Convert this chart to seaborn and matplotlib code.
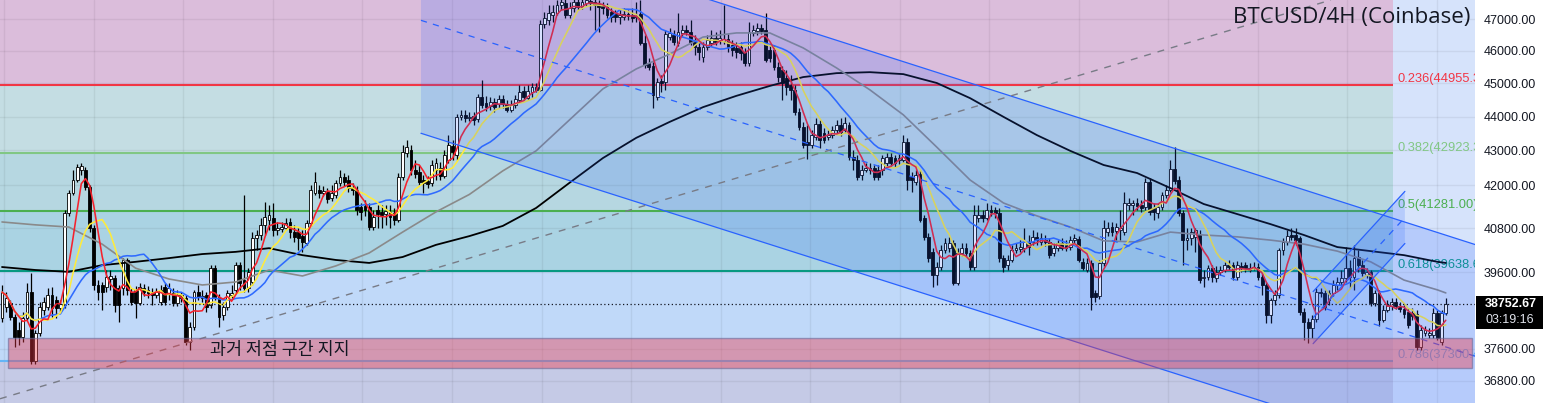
import numpy as np
import pandas as pd
import matplotlib
matplotlib.use("Agg")
import matplotlib.pyplot as plt
import seaborn as sns
from matplotlib.patches import Polygon, Rectangle
from matplotlib.ticker import NullLocator, NullFormatter

# ------------------------------------------------------------------ data
title = "BTCUSD/4H (Coinbase)"
last_price = 38752.67
countdown = "03:19:16"

opens = [
    38390, 38680, 38780, 38420, 38080, 37900, 38390, 39070, 37290, 38000,
    38600, 38680, 38990, 38860, 38650, 38730, 41220, 41780, 42150, 42440,
    42440, 41950, 40800, 39260, 39260, 39210, 39420, 39450, 39180, 39180,
    39930, 39070, 39130, 38780, 39180, 39130, 39070, 38990, 38810, 39210,
    39050, 39050, 38780, 38990, 38910, 37770, 38160, 39070, 38910, 38990,
    38730, 39710, 38940, 38470, 38680, 38990, 39130, 39790, 39390, 39180,
    39340, 40530, 40610, 40890, 41030, 41080, 40750, 40780, 40800, 40970,
    40690, 40690, 40580, 40390, 40940, 41780, 41870, 41780, 41810, 41640,
    41730, 42070, 42240, 42150, 41920, 41870, 41390, 41420, 41390, 40830,
    41300, 41250, 41190, 41250, 41220, 41030, 42240, 42930, 43010, 42440,
    42380, 42150, 42120, 42070, 42440, 42490, 42260, 42720, 43130, 42870,
    43990, 44050, 43960, 44020, 43930, 44580, 44400, 44310, 44430, 44370,
    44520, 44370, 44190, 44340, 44490, 44770, 44550, 44740, 44890, 44800,
    46840, 46970, 47130, 47190, 47450, 47510, 47130, 47350, 47540, 47380,
    47510, 47580, 47540, 47480, 47420, 47380, 47220, 47160, 47060, 47060,
    47160, 47130, 47100, 47160, 46240, 45620, 45530, 44580, 45070, 45040,
    46430, 46490, 46240, 46560, 46650, 46590, 46340, 46120, 45810, 46120,
    46240, 46400, 46340, 46310, 46370, 46180, 46090, 46120, 45960, 45620,
    46560, 46620, 46720, 46650, 46020, 46020, 45500, 45410, 45160, 44950,
    44800, 44130, 43690, 43250, 43160, 43390, 43780, 43510, 43390, 43450,
    43600, 43750, 43600, 43750, 42810, 42720, 42290, 42440, 42490, 42490,
    42440, 42440, 42640, 42810, 42780, 42720, 42720, 43250, 42240, 42090,
    42320, 41080, 40560, 40150, 39530, 39740, 40200, 40250, 40390, 39310,
    40120, 40250, 40120, 39740, 41080, 41160, 41080, 41300, 41300, 41220,
    39980, 39790, 39930, 40200, 40230, 40250, 40420, 40420, 40560, 40420,
    40470, 40420, 40120, 40250, 40390, 40340, 40280, 40470, 40500, 39880,
    39660, 39850, 39050, 38970, 39850, 40690, 40830, 40720, 40750, 40690,
    41440, 41440, 41500, 41440, 41390, 42090, 41360, 41220, 41390, 41730,
    41870, 42470, 42150, 41220, 40470, 40530, 40560, 40610, 39450, 39470,
    39710, 39450, 39610, 39660, 39790, 39790, 39470, 39770, 39790, 39660,
    39710, 39740, 39470, 39260, 38470, 38860, 38990, 40200, 40420, 40610,
    40610, 40530, 38550, 38290, 38130, 38370, 39070, 39050, 38860, 39050,
    39260, 39340, 39450, 39710, 39470, 40010, 39790, 39530, 39610, 38780,
    39050, 38340, 38600, 38710, 38810, 38710, 38630, 38550, 38520, 38500,
    37650, 38000, 37950, 37950, 38520, 37770, 38520,
]

closes = [
    39070, 38910, 38420, 37900, 37900, 38390, 39070, 37290, 38000, 38680,
    38810, 38990, 38650, 38650, 38760, 41220, 41780, 42150, 42520, 42550,
    41950, 40800, 39260, 39070, 39070, 39470, 39500, 38730, 38730, 39930,
    39130, 38810, 38780, 39210, 39070, 39050, 38990, 39070, 39130, 38810,
    39180, 38780, 38990, 38910, 37770, 38160, 39070, 38940, 38970, 38680,
    39710, 38940, 38420, 38680, 39050, 39050, 39790, 39310, 39180, 39610,
    40530, 40610, 40890, 41110, 41160, 40750, 40800, 40830, 40940, 40690,
    40560, 40530, 40420, 40940, 41870, 42090, 41780, 41840, 41610, 41780,
    42070, 42240, 42090, 41920, 41870, 41300, 41250, 41300, 40830, 41110,
    41190, 41160, 41280, 41110, 41030, 42240, 42960, 43100, 42440, 42320,
    42090, 42070, 42040, 42580, 42640, 42260, 42870, 43160, 42960, 43990,
    44050, 43960, 43990, 43900, 44580, 44340, 44280, 44430, 44280, 44520,
    44370, 44190, 44340, 44520, 44740, 44580, 44770, 44890, 44800, 46840,
    47030, 47190, 47220, 47450, 47540, 47130, 47350, 47540, 47380, 47540,
    47610, 47510, 47450, 47380, 47350, 47130, 47060, 47060, 47130, 47160,
    47100, 47030, 47060, 46240, 45560, 45500, 44650, 45040, 45010, 46530,
    46560, 46270, 46590, 46650, 46590, 46270, 46120, 45960, 46120, 46340,
    46400, 46270, 46400, 46370, 46120, 46020, 45960, 45930, 45620, 46590,
    46650, 46720, 46620, 45710, 45780, 45500, 45190, 45010, 44890, 44800,
    44130, 43690, 43160, 43160, 43450, 43780, 43310, 43310, 43450, 43600,
    43750, 43540, 43810, 42810, 42720, 42240, 42440, 42490, 42440, 42240,
    42240, 42780, 42810, 42640, 42640, 42780, 43250, 42150, 42150, 42290,
    41030, 40560, 39980, 39530, 39740, 40200, 40390, 40390, 39310, 40120,
    40250, 40120, 39740, 41160, 41160, 41080, 41300, 41250, 41220, 39980,
    39740, 39930, 40200, 40250, 40280, 40420, 40280, 40560, 40470, 40530,
    40420, 40060, 40250, 40390, 40250, 40250, 40470, 40530, 39930, 39710,
    39850, 38940, 38940, 39850, 40800, 40800, 40690, 40830, 40800, 41500,
    41500, 41500, 41420, 41360, 42090, 41250, 41250, 41390, 41730, 41870,
    42470, 42120, 41220, 40470, 40530, 40690, 40750, 39390, 39470, 39710,
    39470, 39610, 39660, 39790, 39740, 39470, 39790, 39710, 39710, 39710,
    39740, 39470, 39260, 38470, 38860, 38990, 40200, 40420, 40580, 40560,
    40470, 38550, 38290, 38130, 38370, 39070, 39050, 38680, 39050, 39260,
    39340, 39450, 39710, 39470, 39980, 39790, 39580, 39610, 38780, 39050,
    38340, 38600, 38730, 38810, 38710, 38630, 38500, 38210, 38440, 37650,
    38080, 38080, 38000, 38520, 37880, 38520, 38752.67,
]

highs = [
    39260, 39070, 38860, 38500, 38290, 38550, 39310, 39580, 38080, 38810,
    38940, 39180, 39210, 38970, 38860, 41300, 41870, 42440, 42610, 42640,
    42520, 42010, 40890, 39390, 39340, 39660, 39660, 39530, 39260, 39980,
    39980, 39180, 39230, 39310, 39290, 39230, 39180, 39180, 39260, 39310,
    39310, 39180, 39130, 39070, 38990, 38290, 39130, 39260, 39130, 39070,
    39790, 39790, 39020, 38810, 39130, 39260, 39880, 39880, 41730, 39710,
    40690, 40750, 41080, 41530, 41440, 41500, 40970, 40970, 41080, 41080,
    40890, 40800, 40750, 41030, 42010, 42380, 42010, 41980, 41920, 42010,
    42150, 42440, 42350, 42290, 42070, 41980, 41500, 41580, 41500, 41300,
    41440, 41440, 41440, 41440, 41360, 42350, 43160, 43310, 43160, 42720,
    42580, 42290, 42260, 42720, 42780, 42670, 43010, 43450, 43310, 44080,
    44190, 44190, 44130, 44130, 44680, 45100, 44610, 44580, 44550, 44650,
    44650, 44490, 44490, 44650, 44950, 44920, 44950, 45010, 45010, 46970,
    47220, 47450, 47450, 47610, 47770, 47710, 47540, 47710, 47710, 47710,
    47710, 47710, 47670, 47610, 47540, 47510, 47350, 47290, 47290, 47350,
    47290, 47350, 47540, 47610, 46490, 45780, 45650, 45160, 45250, 46650,
    46720, 46650, 47190, 46810, 46810, 46970, 46490, 46270, 46270, 46490,
    46650, 46590, 46650, 47450, 46530, 46340, 46270, 46270, 46090, 46900,
    46810, 46870, 46840, 47190, 46180, 46180, 45650, 45530, 45410, 45250,
    44950, 44250, 43840, 43750, 43600, 43960, 43900, 43660, 43600, 43720,
    43900, 43960, 43990, 43840, 43010, 42870, 42580, 42640, 42640, 42580,
    42580, 42870, 42930, 42930, 42870, 42900, 43450, 43370, 42380, 42440,
    42440, 41160, 40670, 40250, 39880, 40340, 40530, 40560, 40470, 40250,
    40390, 40390, 40200, 41440, 41440, 41300, 41500, 41440, 41390, 41360,
    40060, 40060, 40340, 40390, 40470, 40800, 40610, 40750, 40690, 40670,
    40610, 40530, 40390, 40470, 40530, 40470, 40580, 40640, 40580, 39980,
    39980, 39930, 39130, 39930, 41030, 40970, 40970, 40940, 41300, 41810,
    41640, 41580, 41640, 41580, 42210, 42210, 41500, 41500, 41810, 42010,
    42720, 43100, 42260, 41300, 40800, 40800, 40800, 40750, 39660, 39790,
    39790, 39770, 39770, 39880, 39930, 39880, 39900, 39880, 39880, 39850,
    39880, 39850, 39580, 39340, 38910, 39130, 40250, 40530, 40750, 40800,
    40800, 40580, 38650, 38390, 38470, 39180, 39180, 39130, 39130, 39390,
    39470, 39660, 40280, 39930, 40340, 40200, 39930, 39710, 39660, 39130,
    39130, 38730, 38860, 38910, 38910, 38810, 38730, 38650, 38650, 38600,
    38210, 38180, 38130, 38650, 38600, 38600, 38910,
]

lows = [
    38290, 38550, 38340, 37650, 37700, 37770, 38340, 37220, 37220, 37930,
    38470, 38600, 38420, 38390, 38550, 38650, 41140, 41730, 42090, 42290,
    41870, 40690, 39130, 38860, 38600, 39070, 39130, 38550, 38290, 38990,
    38990, 38730, 38390, 38730, 38970, 38910, 38730, 38910, 38730, 38730,
    38860, 38710, 38710, 38810, 37700, 37570, 38080, 38860, 38810, 38550,
    38650, 38860, 38160, 38340, 38600, 38910, 39050, 39130, 39070, 39070,
    39260, 40200, 40470, 40610, 40750, 40580, 40610, 40690, 40750, 40530,
    40420, 40200, 40150, 40340, 40860, 41730, 41640, 41700, 41500, 41560,
    41640, 41980, 41980, 41810, 41730, 41160, 41030, 41140, 40750, 40750,
    40800, 40800, 40890, 40800, 40890, 40970, 42150, 42810, 42290, 42210,
    42010, 41780, 41920, 41980, 42150, 42150, 42210, 42640, 42720, 42720,
    43900, 43840, 43870, 43750, 43840, 44250, 44160, 44190, 44130, 44250,
    44250, 44130, 44130, 44250, 44430, 44490, 44490, 44580, 44740, 44770,
    46720, 46810, 46900, 47130, 47290, 47030, 47030, 47220, 47290, 47320,
    47420, 47290, 46650, 46590, 47160, 47030, 46900, 46900, 46840, 46970,
    46970, 46900, 46900, 46180, 45470, 45410, 44250, 44490, 44740, 44800,
    46340, 46180, 46150, 46460, 46490, 46180, 45870, 45710, 45650, 46020,
    46150, 46180, 46210, 46210, 45960, 45840, 45780, 45710, 45530, 45530,
    46460, 46490, 46530, 45650, 45650, 45410, 45040, 44490, 44650, 44490,
    44050, 43600, 43070, 42750, 43070, 43310, 43070, 43220, 43310, 43370,
    43510, 43420, 43510, 42720, 42440, 42150, 42150, 42380, 42320, 42150,
    42150, 42290, 42550, 42550, 42520, 42610, 42670, 41870, 41810, 42010,
    40970, 40470, 39880, 39210, 39260, 39660, 40120, 40150, 39260, 39260,
    40040, 40010, 39660, 39660, 40970, 40970, 41030, 41140, 41080, 39880,
    39610, 39660, 39880, 40120, 40150, 40150, 40060, 40340, 40340, 40340,
    40310, 39980, 40040, 40170, 40200, 40170, 40200, 40390, 39880, 39660,
    39610, 38600, 38810, 38890, 39770, 40580, 40580, 40470, 40470, 40610,
    41300, 41160, 41300, 41250, 41300, 41160, 41030, 41080, 41300, 41640,
    41810, 42040, 41140, 39790, 40200, 40340, 40150, 39310, 39210, 39390,
    39340, 39340, 39530, 39610, 39660, 39390, 39390, 39610, 39610, 39610,
    39660, 39390, 38990, 38260, 38260, 38730, 38910, 40060, 40340, 40470,
    40340, 38470, 37820, 37750, 37880, 38290, 38940, 38600, 38730, 38970,
    39130, 39260, 39340, 39180, 39130, 39610, 39500, 39450, 38710, 38710,
    38180, 38290, 38550, 38600, 38630, 38550, 38390, 38130, 38340, 37570,
    37570, 37930, 37880, 37880, 37820, 37700, 38470,
]

# slow moving averages every 8 candles
slow_idx = list(range(0, 345, 8)) + [346]
ma60 = [
    40970, 40890, 40830, 40360, 39710, 39420, 39260, 39340, 39660, 39500,
    39770, 40120, 40690, 41250, 41740, 42410, 42990, 43900, 44830, 45440,
    45900, 46430, 46560, 46560, 46090, 45470, 44800, 44050, 43100, 42150,
    41500, 41140, 40830, 40450, 40420, 40690, 40610, 40560, 40470, 40360,
    40170, 39880, 39390, 39130, 39050,
]
ma120 = [
    39740, 39660, 39610, 39790, 39880, 39980, 40090, 40150, 40250, 40060,
    39930, 39850, 40010, 40340, 40580, 40860, 41360, 42070, 42780, 43370,
    43840, 44280, 44620, 44920, 45190, 45310, 45340, 45280, 45010, 44550,
    43990, 43450, 42990, 42580, 42350, 41920, 41470, 41190, 40910, 40610,
    40280, 40170, 40060, 39880, 39850,
]

fib_ratios = ["0.236", "0.382", "0.5", "0.618", "0.786"]
fib_prices = [44955.30, 42923.30, 41281.00, 39638.60, 37300.40]
y_ticks = [36800, 37600, 39600, 40800, 42000, 43000, 44000, 45000, 46000, 47000]

support_label = "과거 저점 구간 지지"
support_low, support_high = 37123, 37886

# drawing anchors (candle index, price)
big_x = [100.4, 353.0]
big_top = [50690, 40350]
big_mid = [46959, 37412]
big_bot = [43504, 34665]
small_x = [314.2, 336.2]
small_up = [39085, 41827]
small_mid = [38399, 41096]
small_lo = [37731, 40378]
trend_a = (-0.48, 36351)
trend_b = (276.8, 45960)

# ------------------------------------------------------------------ style
sns.set_theme(style="white")
plt.rcParams["font.family"] = ["Liberation Sans", "DejaVu Sans"]

df = pd.DataFrame({"open": opens, "close": closes, "high": highs, "low": lows})
df["idx"] = np.arange(len(df))
df["ma5"] = df["close"].rolling(5, min_periods=1).mean()
df["ma10"] = df["close"].rolling(10, min_periods=1).mean()
df["ma20"] = df["close"].rolling(20, min_periods=1).mean()

W, H = 1543, 403
fig = plt.figure(figsize=(W / 100, H / 100), dpi=100, facecolor="white")
ax = fig.add_axes([0, 0, 1475 / W, 1])
ax.set_yscale("log")
ax.set_xlim(-0.48, 353.0)
ax.set_ylim(36247, 47609)
ax.set_facecolor("#d6e3fb")
for s in ax.spines.values():
    s.set_visible(False)

# fib zones
fib_end = 333.3
edges = [60000] + fib_prices + [30000]
band_colors = ["#dbbddb", "#c4dde3", "#b6d7e1", "#aad3e3", "#c0d9f9", "#c5cae6"]
for k, col in enumerate(band_colors):
    ax.fill_between([-1, fib_end], edges[k + 1], edges[k], color=col, lw=0, zorder=0.5)

# ticks / grid
ax.set_yticks(y_ticks)
ax.set_yticklabels([f"{v:.2f}" for v in y_ticks])
ax.yaxis.set_minor_locator(NullLocator())
ax.yaxis.set_minor_formatter(NullFormatter())
ax.yaxis.tick_right()
ax.tick_params(axis="y", length=0, pad=6.5, labelsize=9, labelcolor="#131722")
ax.set_xticks(np.arange(0.59, 353, 21.45))
ax.tick_params(axis="x", length=0, labelbottom=False)
ax.grid(True, color="#000000", alpha=0.06, lw=1)
ax.set_axisbelow("line")

fib_colors = ["#f23645", "#81c784", "#4caf50", "#089981", "#64b5f6"]
for r, p, c in zip(fib_ratios, fib_prices, fib_colors):
    ax.plot([-1, fib_end], [p, p], color=c, lw=1.5, zorder=2, solid_capstyle="butt")
    ax.annotate(f"{r}({p:.2f})", xy=(334.5, p), xytext=(0, 1.8), textcoords="offset points",
                va="baseline", ha="left", fontsize=9.3, color=c, zorder=2,
                annotation_clip=False, clip_on=True)

# candles
o = df["open"].to_numpy(float)
c = df["close"].to_numpy(float)
up = c >= o
ax.vlines(df["idx"], df["low"], df["high"], color="#000000", lw=0.9, zorder=3)
ax.bar(df["idx"], np.maximum(np.abs(c - o), 2.0), bottom=np.minimum(o, c), width=0.68,
       color=np.where(up, "#ffffff", "#000000"), edgecolor="#000000", linewidth=0.6, zorder=3.1)

# moving averages
sns.lineplot(x=slow_idx, y=ma120, ax=ax, color="#000000", lw=1.3, zorder=4)
sns.lineplot(x=slow_idx, y=ma60, ax=ax, color="#8a8a8a", lw=1.2, zorder=4)
sns.lineplot(data=df, x="idx", y="ma20", ax=ax, color="#2f6bff", lw=1.15, zorder=4)
sns.lineplot(data=df, x="idx", y="ma10", ax=ax, color="#ffeb3b", lw=1.15, zorder=4)
sns.lineplot(data=df, x="idx", y="ma5", ax=ax, color="#f5222d", lw=1.15, zorder=4)

# big descending channel
ax.add_patch(Polygon([(big_x[0], big_top[0]), (big_x[1], big_top[1]),
                      (big_x[1], big_bot[1]), (big_x[0], big_bot[0])],
                     closed=True, facecolor="#2962ff", alpha=0.18, lw=0, zorder=5))
ax.plot(big_x, big_top, color="#2962ff", lw=0.9, zorder=6)
ax.plot(big_x, big_bot, color="#2962ff", lw=0.9, zorder=6)
ax.plot(big_x, big_mid, color="#2962ff", lw=0.9, ls=(0, (5, 5)), zorder=6)

# small rising channel
ax.add_patch(Polygon([(small_x[0], small_up[0]), (small_x[1], small_up[1]),
                      (small_x[1], small_lo[1]), (small_x[0], small_lo[0])],
                     closed=True, facecolor="#2962ff", alpha=0.18, lw=0, zorder=5))
ax.plot(small_x, small_up, color="#2962ff", lw=0.9, zorder=6)
ax.plot(small_x, small_lo, color="#2962ff", lw=0.9, zorder=6)
ax.plot(small_x, small_mid, color="#2962ff", lw=0.9, ls=(0, (5, 5)), zorder=6)

# dashed grey trend line
ax.axline(trend_a, trend_b, color="#787b86", lw=1.0, ls=(0, (5, 5)), zorder=6)

# support zone
ax.add_patch(Rectangle((1.44, support_low), 352.3 - 1.44, support_high - support_low,
                       facecolor=(0.949, 0.212, 0.271, 0.40),
                       edgecolor=(0.42, 0.42, 0.6, 0.6), lw=1, zorder=7))
ax.text(66.6, 37570, support_label, ha="center", va="center", fontsize=12.5,
        family=["Noto Sans CJK KR", "DejaVu Sans"], color="#131722", zorder=8)

# last price line
ax.axhline(last_price, color="#131722", lw=0.9, ls=(0, (1, 2)), zorder=9)

# title
fig.text(1470 / W, 1 - 18 / H, title, ha="right", va="center", fontsize=16,
         family=["Open Sans", "DejaVu Sans"], color="#131722")

# price box on the axis
fig.add_artist(Rectangle((1476 / W, 1 - 329 / H), (W - 1476) / W, 33 / H,
                         transform=fig.transFigure, facecolor="#000000", lw=0, zorder=5))
fig.text(1485 / W, 1 - 304 / H, f"{last_price:.2f}", ha="left", va="center",
         fontsize=9, fontweight="bold", color="white", zorder=6)
fig.text(1485 / W, 1 - 320 / H, countdown, ha="left", va="center",
         fontsize=9, color="#e0e3eb", zorder=6)

fig.savefig("out.png", dpi=100, facecolor="white")
